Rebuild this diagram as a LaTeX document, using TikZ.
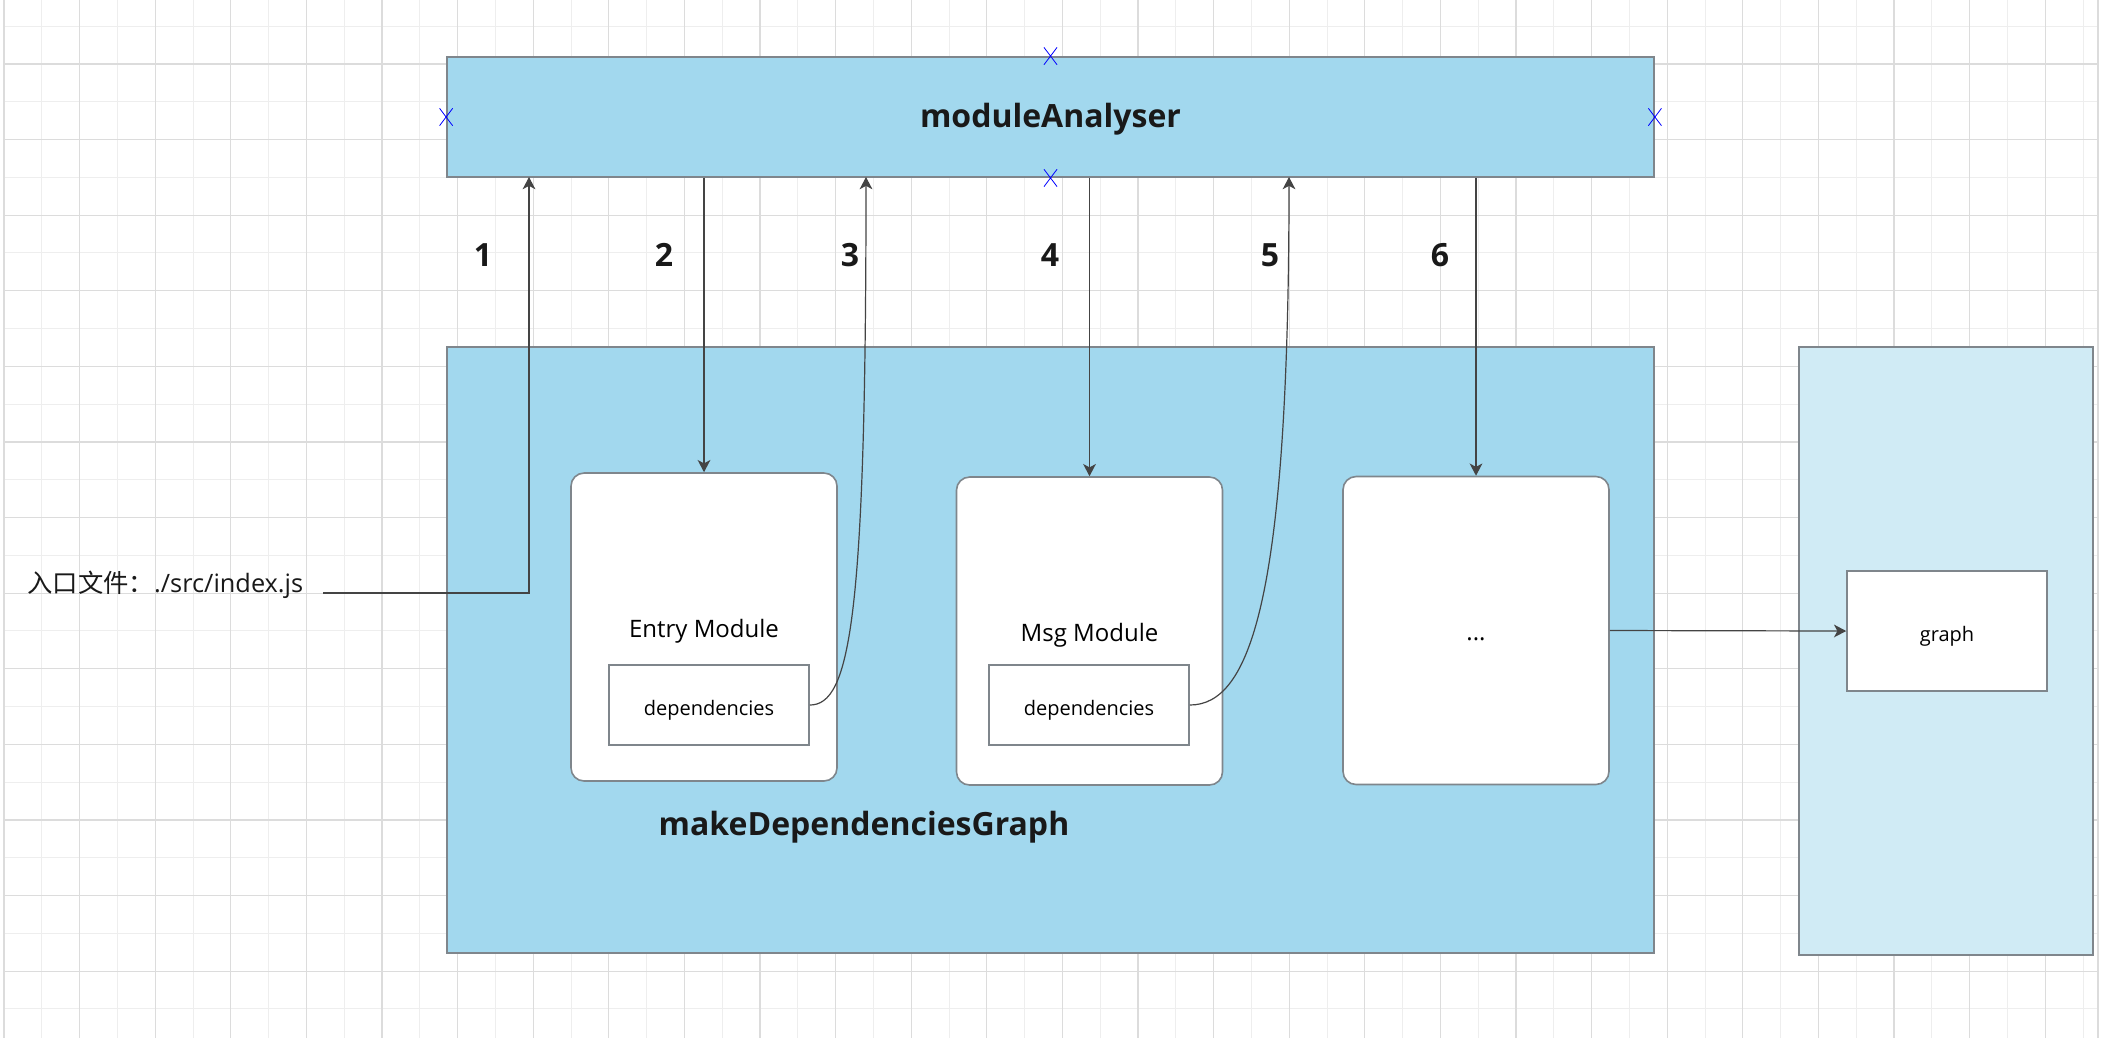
\documentclass[tikz,border=0pt]{standalone}
\usepackage{fontspec}
\setmainfont{Open Sans}
\newfontfamily\cjk{Noto Sans CJK SC}
\usetikzlibrary{arrows.meta,shapes.misc}
\definecolor{panelblue}{HTML}{A2D8EE}
\definecolor{paleblue}{HTML}{D0EBF5}
\definecolor{edgegray}{HTML}{7F868C}
\definecolor{linegray}{HTML}{444444}
\definecolor{gridmajor}{HTML}{DCDCDC}
\definecolor{gridminor}{HTML}{EEEEEE}

\begin{document}
\begin{tikzpicture}
        [x=0.375pt, y=-0.375pt,
        panel/.style={draw=edgegray, line width=0.7pt, fill=panelblue, inner sep=0pt},
        module/.style={draw=edgegray, line width=0.6pt, fill=white, rounded corners=4.9pt,
            minimum width=99.75pt, minimum height=115.5pt, font=\fontsize{9}{11}\selectfont,
            text height=0.75em, text depth=0pt},
        inner/.style={draw=edgegray, line width=0.6pt, fill=white, minimum width=75pt,
            font=\fontsize{7.5}{9}\selectfont, text height=0.75em, text depth=0pt},
        title/.style={font=\bfseries\fontsize{12}{14}\selectfont, text=black!90,
            text height=0.75em, text depth=0pt},
        flow/.style={draw=linegray, line width=0.45pt, -{Stealth[length=4.6pt, width=4.8pt, inset=1.3pt]}},
        marker/.style={cross out, draw=blue, line width=0.3pt, minimum width=4.6pt, minimum height=6.2pt, inner sep=0pt}]

        \useasboundingbox (0,0) rectangle (2126,1038);
        \fill[white] (0,0) rectangle (2126,1038);

        % grid
        \foreach \g in {0,...,27} {
            \draw[gridminor, line width=0.375pt] ({41.8+75.6*\g},0) -- ++(0,1038);
        }
        \foreach \g in {0,...,13} {
            \draw[gridminor, line width=0.375pt] (4,{26+75.6*\g}) -- (2098,{26+75.6*\g});
        }
        \foreach \g in {0,...,27} {
            \draw[gridmajor, line width=0.45pt] ({4+75.6*\g},0) -- ++(0,1038);
        }
        \foreach \g in {0,...,12} {
            \draw[gridmajor, line width=0.45pt] (4,{64+75.6*\g}) -- (2098,{64+75.6*\g});
        }
        \draw[gridmajor, line width=0.45pt] (2098,0) -- (2098,1038);

        \node[panel, minimum width=452.6pt, minimum height=45pt, title] (ma) at (1050.5,117) {moduleAnalyser};
        \node[panel, minimum width=452.6pt, minimum height=227.25pt] (mdg) at (1050.5,650) {};
        \node[panel, fill=paleblue, minimum width=110.25pt, minimum height=228pt] (res) at (1946,651) {};
        \node[title] (mdglabel) at (864,825) {makeDependenciesGraph};

        \node[module] (entry) at (704,627) {Entry Module};
        \node[module] (msg) at (1089.5,631) {Msg Module};
        \node[module] (more) at (1476,630.5) {...};
        \node[inner, minimum height=30pt] (deps1) at (709,705) {dependencies};
        \node[inner, minimum height=30pt] (deps2) at (1089,705) {dependencies};
        \node[inner, minimum height=45pt] (graph) at (1947,631) {graph};

        \node[anchor=base west, inner sep=0pt, font=\fontsize{9.5}{11}\selectfont, text=black!90] (srclabel) at (27,592) {{\cjk 入口文件：}./src/index.js};

        \foreach \n/\px in {1/483, 2/664, 3/850, 4/1050, 5/1270, 6/1440}
            \node[title] (num\n) at (\px,256) {\n};

        \foreach \a in {north,south,west,east}
            \node[marker] (mark\a) at (ma.\a) {};

        \coordinate (src) at (323,593);
        \coordinate (in1) at (529,177);
        \coordinate (in3) at (866,177);
        \coordinate (in5) at (1289,177);

        % calls into moduleAnalyser and back
        \draw[flow] (src) -| (in1);
        \draw[flow] (entry.north |- ma.south) -- (entry.north);
        \draw[flow] (deps1.east) .. controls (850,705) and (866,620) .. (in3);
        \draw[flow] (msg.north |- ma.south) -- (msg.north);
        \draw[flow] (deps2.east) .. controls (1250,705) and (1289,600) .. (in5);
        \draw[flow] (more.north |- ma.south) -- (more.north);

        % result
        \draw[flow] (more.east) -- (graph.west);

\end{tikzpicture}
\end{document}
